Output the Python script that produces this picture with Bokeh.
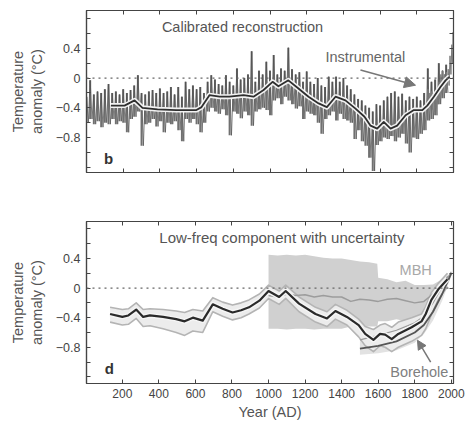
from bokeh.plotting import figure
from bokeh.models import (Range1d, FixedTicker, LinearAxis, Span, Label, Arrow,
                          NormalHead, CustomJSTickFormatter)
from bokeh.layouts import column
from bokeh.embed import file_html
from bokeh.resources import INLINE

FONT = "Liberation Sans"
INK = "#444444"

# ---------------- data: panel b (calibrated reconstruction) ----------------
annual_year = list(range(0, 1980, 20))
annual_hi = [
    -0.25, -0.03, -0.22, -0.18, -0.20, -0.15, -0.08, -0.20, -0.18, -0.22,
    -0.15, -0.20, -0.16, -0.10, 0.04, -0.20, -0.22, -0.18, -0.16, -0.20,
    -0.14, -0.20, -0.18, -0.12, -0.22, -0.12, -0.25, -0.05, -0.15, -0.10,
    -0.15, -0.12, -0.20, -0.05, 0.04, -0.02, -0.08, -0.10, 0.04, -0.05,
    -0.10, 0.13, -0.02, 0.00, 0.05, 0.36, -0.05, 0.10, 0.05, 0.22,
    0.10, 0.31, 0.05, 0.13, 0.10, 0.41, 0.12, 0.05, 0.08, -0.05,
    0.09, -0.05, -0.08, 0.00, -0.10, -0.12, 0.02, -0.05, 0.02, -0.05,
    0.00, -0.10, -0.15, -0.22, -0.28, -0.30, -0.37, -0.40, -0.45, -0.35,
    -0.37, -0.30, -0.25, -0.20, -0.18, -0.25, -0.21, -0.30, -0.25, -0.28,
    -0.25, -0.30, -0.20, 0.13, -0.05, -0.02, 0.20, 0.10, 0.18]
annual_lo = [
    -0.60, -0.55, -0.62, -0.58, -0.66, -0.60, -0.62, -0.55, -0.62, -0.58,
    -0.60, -0.73, -0.55, -0.52, -0.45, -0.91, -0.62, -0.60, -0.55, -0.65,
    -0.58, -0.73, -0.60, -0.62, -0.58, -0.70, -0.85, -0.55, -0.60, -0.55,
    -0.62, -0.73, -0.60, -0.45, -0.40, -0.45, -0.48, -0.42, -0.50, -0.77,
    -0.45, -0.48, -0.54, -0.45, -0.50, -0.64, -0.45, -0.42, -0.40, -0.43,
    -0.50, -0.30, -0.27, -0.35, -0.25, -0.30, -0.35, -0.41, -0.38, -0.55,
    -0.45, -0.48, -0.50, -0.60, -0.75, -0.55, -0.50, -0.45, -0.57, -0.48,
    -0.55, -0.57, -0.60, -0.82, -0.70, -0.85, -0.91, -1.07, -1.25, -0.90,
    -0.85, -0.80, -0.82, -0.78, -0.85, -0.80, -0.75, -0.88, -1.00, -0.80,
    -0.82, -0.75, -0.70, -0.57, -0.55, -0.50, -0.35, -0.27, -0.20]

smooth_year = [133, 207, 262, 305, 387, 490, 561, 599, 627, 670, 725, 779, 856,
               910, 965, 1014, 1046, 1100, 1155, 1210, 1265, 1310, 1357, 1411,
               1466, 1515, 1548, 1584, 1620, 1657, 1693, 1739, 1784, 1830, 1857,
               1893, 1929, 1957, 1979]
smooth_val = [-0.37, -0.37, -0.30, -0.40, -0.42, -0.43, -0.43, -0.43, -0.39,
              -0.23, -0.25, -0.25, -0.23, -0.25, -0.16, -0.05, -0.11, -0.03,
              -0.14, -0.25, -0.34, -0.39, -0.25, -0.30, -0.41, -0.52, -0.64,
              -0.68, -0.59, -0.68, -0.64, -0.50, -0.43, -0.43, -0.37, -0.25,
              -0.12, -0.03, 0.02]

instr_year = [1856, 1861, 1866, 1871, 1876, 1881, 1886, 1891, 1896, 1901, 1906,
              1911, 1916, 1921, 1926, 1931, 1936, 1941, 1946, 1951, 1956, 1961,
              1966, 1971, 1976, 1981, 1986, 1991, 1995, 1998, 2000]
instr_val = [-0.35, -0.15, -0.40, -0.20, -0.38, -0.18, -0.42, -0.22, -0.45,
             -0.20, -0.40, -0.15, -0.35, -0.05, -0.28, 0.05, -0.20, 0.10, -0.15,
             0.05, -0.20, 0.08, -0.15, 0.12, -0.10, 0.30, 0.05, 0.45, 0.20,
             0.62, 0.35]

# ---------------- data: panel d (low-frequency component) ----------------
lf_year = [133, 200, 233, 276, 314, 351, 423, 495, 541, 586, 640, 695, 749, 803,
           850, 893, 950, 1000, 1058, 1094, 1167, 1257, 1320, 1366, 1429, 1493,
           1529, 1574, 1610, 1638, 1674, 1710, 1783, 1837, 1860, 1891, 1928, 1979]
lf_val = [-0.35, -0.39, -0.37, -0.29, -0.39, -0.37, -0.39, -0.42, -0.45, -0.40,
          -0.44, -0.22, -0.28, -0.33, -0.30, -0.26, -0.17, -0.04, -0.12, -0.04,
          -0.21, -0.35, -0.41, -0.31, -0.39, -0.50, -0.62, -0.70, -0.62, -0.63,
          -0.69, -0.62, -0.53, -0.45, -0.35, -0.16, -0.02, 0.12]
lf_hi = [-0.26, -0.29, -0.28, -0.20, -0.29, -0.28, -0.29, -0.31, -0.33, -0.29,
         -0.31, -0.13, -0.19, -0.23, -0.20, -0.16, -0.08, 0.04, -0.04, 0.04,
         -0.12, -0.26, -0.32, -0.22, -0.30, -0.42, -0.52, -0.56, -0.50, -0.48,
         -0.53, -0.46, -0.40, -0.35, -0.25, -0.06, 0.06, 0.20]
lf_lo = [-0.46, -0.50, -0.49, -0.41, -0.52, -0.51, -0.55, -0.60, -0.64, -0.58,
         -0.60, -0.32, -0.38, -0.43, -0.40, -0.35, -0.27, -0.14, -0.22, -0.14,
         -0.32, -0.46, -0.52, -0.42, -0.50, -0.66, -0.78, -0.86, -0.78, -0.80,
         -0.86, -0.80, -0.72, -0.64, -0.55, -0.36, -0.16, 0.02]

mbh_year = [1000, 1050, 1100, 1150, 1200, 1250, 1300, 1350, 1400, 1450, 1500,
            1550, 1600, 1650, 1700, 1750, 1800, 1850, 1900, 1950, 1980]
mbh_val = [-0.10, -0.12, -0.08, -0.10, -0.09, -0.12, -0.10, -0.12, -0.12, -0.18,
           -0.15, -0.16, -0.18, -0.15, -0.14, -0.17, -0.20, -0.18, -0.08, 0.02,
           0.16]
mbh_band_year = [1000, 1050, 1100, 1150, 1200, 1250, 1300, 1350, 1400, 1450,
                 1500, 1550, 1595, 1600, 1650, 1700, 1750, 1800, 1850, 1900,
                 1950, 1980]
mbh_top = [0.45, 0.44, 0.45, 0.44, 0.45, 0.43, 0.41, 0.40, 0.40, 0.38, 0.36,
           0.35, 0.33, 0.14, 0.12, 0.08, 0.10, 0.04, 0.04, 0.05, 0.12, 0.20]
mbh_bot = [-0.55, -0.55, -0.56, -0.55, -0.55, -0.56, -0.55, -0.55, -0.55, -0.52,
           -0.52, -0.52, -0.52, -0.45, -0.45, -0.42, -0.45, -0.45, -0.40, -0.30,
           -0.12, 0.12]

bh_year = [1500, 1600, 1700, 1800, 1850, 1900, 1950, 2000]
bh_val = [-0.82, -0.78, -0.72, -0.60, -0.50, -0.32, -0.08, 0.20]
bh_hi = [-0.70, -0.64, -0.57, -0.47, -0.38, -0.20, 0.02, 0.22]
bh_lo = [-0.90, -0.88, -0.84, -0.74, -0.62, -0.44, -0.17, 0.16]

x_ticks = [200, 400, 600, 800, 1000, 1200, 1400, 1600, 1800, 2000]
y_ticks = [-0.8, -0.4, 0, 0.4]
y_minor = [-1.2, -1.0, -0.6, -0.2, 0.2, 0.6, 0.8]

fmt = CustomJSTickFormatter(code="""
if (Math.abs(tick) < 1e-9) { return "0"; }
const s = Math.abs(tick).toFixed(1);
return tick < 0 ? "\\u2212" + s : s;
""")


def hide_labels(ax):
    ax.major_label_text_font_size = "1px"
    ax.major_label_text_color = None
    ax.major_label_standoff = 0


def style(p, show_x_labels):
    p.background_fill_color = "white"
    p.border_fill_color = "white"
    p.outline_line_color = INK
    p.outline_line_width = 1.2
    p.grid.visible = False
    for ax in p.axis:
        ax.axis_line_color = INK
        ax.axis_line_width = 1.2
        ax.major_tick_in = 4
        ax.major_tick_out = 0
        ax.minor_tick_in = 4
        ax.minor_tick_out = 0
        ax.major_tick_line_color = INK
        ax.minor_tick_line_color = INK
        ax.major_label_text_font = FONT
        ax.major_label_text_color = INK
        ax.axis_label_text_font = FONT
        ax.axis_label_text_font_style = "normal"
        ax.axis_label_text_color = "#555555"
    p.xaxis.ticker = FixedTicker(ticks=x_ticks)
    p.yaxis.ticker = FixedTicker(ticks=y_ticks, minor_ticks=y_minor)
    p.yaxis.formatter = fmt
    p.yaxis.major_label_text_font_size = "12.5px"
    p.yaxis.major_label_standoff = 6
    p.yaxis.axis_label = "Temperature\nanomaly (\u00b0C)"
    p.yaxis.axis_label_text_font_size = "14.5px"
    p.yaxis.axis_label_standoff = 8
    if show_x_labels:
        p.xaxis.major_label_text_font_size = "12px"
        p.xaxis.major_label_standoff = 5
        p.xaxis.axis_label = "Year (AD)"
        p.xaxis.axis_label_text_font_size = "14.5px"
        p.xaxis.axis_label_standoff = 3
    else:
        for ax in p.xaxis:
            hide_labels(ax)
    top = LinearAxis(ticker=FixedTicker(ticks=x_ticks), major_tick_in=4, major_tick_out=0,
                     axis_line_color=INK, major_tick_line_color=INK)
    right = LinearAxis(ticker=FixedTicker(ticks=y_ticks, minor_ticks=y_minor),
                       major_tick_in=4, major_tick_out=0, minor_tick_in=4, minor_tick_out=0,
                       axis_line_color=INK, major_tick_line_color=INK,
                       minor_tick_line_color=INK)
    hide_labels(top)
    hide_labels(right)
    p.add_layout(top, "above")
    p.add_layout(right, "right")
    p.add_layout(Span(location=0, dimension="width", line_color="#666666",
                      line_width=1.3, line_dash="2 4"))


def txt(p, x, y, s, size="14.5px", color="#555555", style_="normal"):
    p.add_layout(Label(x=x, y=y, text=s, text_font=FONT, text_font_size=size,
                       text_color=color, text_align="center", text_baseline="middle",
                       text_font_style=style_))


# ---------------- panel b ----------------
p1 = figure(width=465, height=196, x_range=Range1d(0, 2000), y_range=Range1d(-1.27, 0.91),
            output_backend="svg", toolbar_location=None,
            min_border_left=86, min_border_right=12, min_border_top=10, min_border_bottom=24)
style(p1, False)

zz_x, zz_y = [], []
for yr, hi, lo in zip(annual_year, annual_hi, annual_lo):
    zz_x += [yr, yr + 10]
    zz_y += [hi, lo]
p1.segment(x0=annual_year, y0=annual_lo, x1=annual_year, y1=annual_hi,
           line_color="#707070", line_width=2.0)
p1.line(zz_x, zz_y, line_color="#505050", line_width=0.8, line_alpha=0.9)
p1.line(instr_year, instr_val, line_color="#7a7a7a", line_width=1.0)
p1.line(smooth_year, smooth_val, line_color="#f2f2f2", line_width=5, line_join="round")
p1.line(smooth_year, smooth_val, line_color="#2e2e2e", line_width=1.8, line_join="round")

txt(p1, 850, 0.69, "Calibrated reconstruction")
txt(p1, 1520, 0.29, "Instrumental", color="#666666")
txt(p1, 120, -1.085, "b", size="15px", color="#333333", style_="bold")
p1.add_layout(Arrow(end=NormalHead(size=11, fill_color="#777777", line_color="#777777"),
                    line_color="#777777", line_width=1.5,
                    x_start=1493, y_start=0.108, x_end=1793, y_end=-0.095))

# ---------------- panel d ----------------
p2 = figure(width=465, height=227, x_range=Range1d(4, 2012), y_range=Range1d(-1.29, 0.9),
            output_backend="svg", toolbar_location=None,
            min_border_left=83, min_border_right=12, min_border_top=25, min_border_bottom=40)
style(p2, True)

p2.varea(x=mbh_band_year, y1=mbh_bot, y2=mbh_top, fill_color="#d0d0d0")
p2.varea(x=bh_year, y1=bh_lo, y2=bh_hi, fill_color="#e2e2e2")
p2.varea(x=lf_year, y1=lf_lo, y2=lf_hi, fill_color="#ececec")
p2.line(lf_year, lf_hi, line_color="#b4b4b4", line_width=1.6, line_join="round")
p2.line(lf_year, lf_lo, line_color="#b4b4b4", line_width=1.6, line_join="round")
p2.line(bh_year, bh_hi, line_color="#9a9a9a", line_width=1.2)
p2.line(mbh_year, mbh_val, line_color="#9c9c9c", line_width=1.5, line_join="round")
p2.line(bh_year, bh_val, line_color="#555555", line_width=1.8, line_join="round")
p2.line(lf_year, lf_val, line_color="#f5f5f5", line_width=5, line_join="round")
p2.line(lf_year, lf_val, line_color="#2a2a2a", line_width=2.2, line_join="round")

txt(p2, 1073, 0.68, "Low-freq component with uncertainty", size="15px")
txt(p2, 1805, 0.245, "MBH", color="#a8a8a8")
txt(p2, 1825, -1.135, "Borehole", color="#808080")
txt(p2, 129, -1.085, "d", size="15px", color="#333333", style_="bold")
p2.add_layout(Arrow(end=NormalHead(size=9, fill_color="#777777", line_color="#777777"),
                    line_color="#777777", line_width=1.5,
                    x_start=1887, y_start=-1.0, x_end=1815, y_end=-0.705))

layout = column(p1, p2, spacing=0)
open("out.html", "w", encoding="utf-8").write(file_html(layout, INLINE))
